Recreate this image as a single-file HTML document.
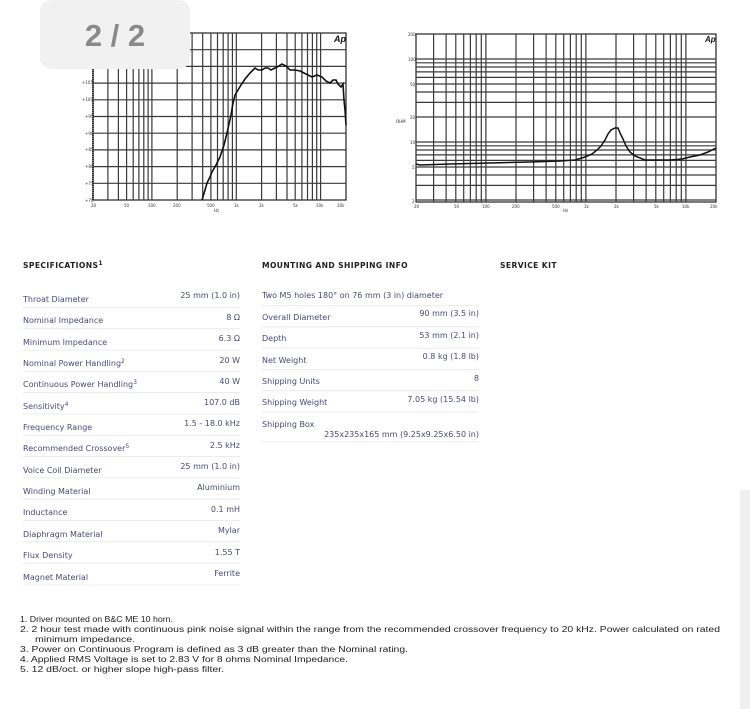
<!DOCTYPE html>
<html><head><meta charset="utf-8"><style>
html,body{margin:0;padding:0;background:#fff;}
svg{display:block;}
.l{font-family:"DejaVu Sans",sans-serif;font-size:8px;fill:#454a78;}
.v{font-family:"DejaVu Sans",sans-serif;font-size:8px;fill:#454a78;text-anchor:end;}
.h{font-family:"DejaVu Sans",sans-serif;font-size:7.6px;font-weight:bold;fill:#222;}
.f{font-family:"Liberation Sans",sans-serif;font-size:8.6px;fill:#222;}
.t{font-family:"DejaVu Sans",sans-serif;font-size:4px;fill:#333;}
</style></head><body>
<svg width="750" height="709" viewBox="0 0 750 709" xmlns="http://www.w3.org/2000/svg">
<rect width="750" height="709" fill="#fff"/>
<!-- LEFT CHART -->
<g stroke="#3a3a3a" stroke-width="1.2" fill="none">
<rect x="93" y="33" width="253" height="167" stroke="#222"/>
<path d="M93 49.7H346M93 66.4H346M93 83.1H346M93 99.8H346M93 116.5H346M93 133.2H346M93 149.9H346M93 166.6H346M93 183.3H346"/>
<path d="M107.9 33V200M118.4 33V200M126.6 33V200M133.2 33V200M138.9 33V200M143.8 33V200M148.1 33V200M151.9 33V200M177.2 33V200M192.1 33V200M202.7 33V200M210.9 33V200M217.5 33V200M223.2 33V200M228.1 33V200M232.4 33V200M236.3 33V200M261.6 33V200M276.4 33V200M287 33V200M295.2 33V200M301.9 33V200M307.5 33V200M312.4 33V200M316.7 33V200M320.6 33V200"/>
</g>
<path d="M93 33V200" stroke="#333" stroke-width="2" stroke-dasharray="1 1"/>
<polyline fill="none" stroke="#111" stroke-width="1.6" points="202,200 205,190 207,183 210,177 212,172 216,165 220,157 224,145 227,133 229,124 231,115 233,103 235,95 238,90 241,85 245,79 250,73 253,70 255,68 258,70 262,70 265,68 268,68 271,70 273,69 277,67 282,64 286,66 290,70 295,70 300,71 306,74 312,77 317,75 322,77 326,81 330,83 333,80 336,80 338,84 341,87 343,84 344,100 345,110 346,125"/>
<text x="334" y="42" font-family="Liberation Sans,sans-serif" font-size="9" font-weight="bold" font-style="italic" fill="#111">Ap</text>
<g class="t">
<text x="85" y="202">+70</text><text x="85" y="185">+75</text><text x="85" y="168">+80</text><text x="85" y="151">+85</text><text x="85" y="135">+90</text><text x="85" y="118">+95</text><text x="82" y="101">+100</text><text x="82" y="84">+105</text>
<text x="91" y="207">20</text><text x="124" y="207">50</text><text x="148" y="207">100</text><text x="173" y="207">200</text><text x="207" y="207">500</text><text x="234" y="207">1k</text><text x="259" y="207">2k</text><text x="293" y="207">5k</text><text x="316" y="207">10k</text><text x="337" y="207">20k</text>
<text x="214" y="212">Hz</text>
</g>
<!-- RIGHT CHART -->
<g stroke="#3a3a3a" stroke-width="1.2" fill="none">
<rect x="416" y="34" width="300" height="168" stroke="#222"/>
<path d="M416 200H716M416 185.4H716M416 175H716M416 167H716M416 160.4H716M416 154.9H716M416 150H716M416 145.8H716M416 142H716M416 117H716M416 102.4H716M416 92H716M416 84H716M416 77.4H716M416 71.9H716M416 67H716M416 62.8H716M416 59H716"/>
<path d="M433.6 34V202M446.1 34V202M455.8 34V202M463.7 34V202M470.4 34V202M476.2 34V202M481.3 34V202M485.9 34V202M516 34V202M533.6 34V202M546.1 34V202M555.8 34V202M563.7 34V202M570.4 34V202M576.2 34V202M581.3 34V202M585.9 34V202M616 34V202M633.6 34V202M646.1 34V202M655.8 34V202M663.7 34V202M670.4 34V202M676.2 34V202M681.3 34V202M685.9 34V202"/>
</g>
<polyline fill="none" stroke="#111" stroke-width="1.5" points="416,164 420,165 450,164 490,163 530,162 560,161 575,160 585,157 592,154 597,150 601,146 605,140 608,134 611,130 615,128 618,128 620,133 623,139 626,146 630,152 635,156 645,160 658,160 670,160 682,159 690,157 700,155 708,152 716,148"/>
<text x="705" y="42" font-family="Liberation Sans,sans-serif" font-size="8" font-weight="bold" font-style="italic" fill="#111">Ap</text>
<g class="t">
<text x="408" y="36">200</text><text x="408" y="61">100</text><text x="410" y="86">50</text><text x="410" y="119">20</text><text x="410" y="144">10</text><text x="412" y="169">5</text><text x="412" y="203">2</text>
<text x="396" y="123">OHM</text>
<text x="414" y="208">20</text><text x="454" y="208">50</text><text x="482" y="208">100</text><text x="512" y="208">200</text><text x="552" y="208">500</text><text x="584" y="208">1k</text><text x="614" y="208">2k</text><text x="654" y="208">5k</text><text x="682" y="208">10k</text><text x="710" y="208">20k</text>
<text x="563" y="212">Hz</text>
</g>
<!-- BADGE -->
<rect x="40" y="0" width="150" height="69" rx="11" fill="#f1f1f1"/>
<text x="115" y="46" text-anchor="middle" font-family="Liberation Sans,sans-serif" font-size="31" font-weight="bold" fill="#8a8a8a">2 / 2</text>
<!-- HEADERS -->
<text class="h" x="23" y="268" letter-spacing="0.4">SPECIFICATIONS<tspan font-size="6" dy="-3">1</tspan></text>
<text class="h" x="262" y="268" letter-spacing="0.4">MOUNTING AND SHIPPING INFO</text>
<text class="h" x="500" y="268" letter-spacing="0.4">SERVICE KIT</text>
<!-- SPEC TABLE -->
<g stroke="#e6e6e6" stroke-width="0.8">
<path d="M23 307.5H240M23 328.8H240M23 350.1H240M23 371.4H240M23 392.7H240M23 414H240M23 435.3H240M23 456.6H240M23 477.9H240M23 499.2H240M23 520.5H240M23 541.8H240M23 563.1H240M23 585H240"/>
<path d="M262 305.5H479M262 326.8H479M262 348.1H479M262 369.4H479M262 390.7H479M262 412H479M262 442H479"/>
</g>
<g class="l">
<text x="23" y="302">Throat Diameter</text>
<text x="23" y="323">Nominal Impedance</text>
<text x="23" y="345">Minimum Impedance</text>
<text x="23" y="366">Nominal Power Handling<tspan font-size="6" dy="-3">2</tspan></text>
<text x="23" y="387">Continuous Power Handling<tspan font-size="6" dy="-3">3</tspan></text>
<text x="23" y="409">Sensitivity<tspan font-size="6" dy="-3">4</tspan></text>
<text x="23" y="430">Frequency Range</text>
<text x="23" y="451">Recommended Crossover<tspan font-size="6" dy="-3">5</tspan></text>
<text x="23" y="473">Voice Coil Diameter</text>
<text x="23" y="494">Winding Material</text>
<text x="23" y="515">Inductance</text>
<text x="23" y="537">Diaphragm Material</text>
<text x="23" y="558">Flux Density</text>
<text x="23" y="580">Magnet Material</text>
<text x="262" y="298">Two M5 holes 180° on 76 mm (3 in) diameter</text>
<text x="262" y="320">Overall Diameter</text>
<text x="262" y="341">Depth</text>
<text x="262" y="363">Net Weight</text>
<text x="262" y="384">Shipping Units</text>
<text x="262" y="405">Shipping Weight</text>
<text x="262" y="427">Shipping Box</text>
</g>
<g class="v">
<text x="240" y="298">25 mm (1.0 in)</text>
<text x="240" y="320">8 Ω</text>
<text x="240" y="341">6.3 Ω</text>
<text x="240" y="363">20 W</text>
<text x="240" y="384">40 W</text>
<text x="240" y="405">107.0 dB</text>
<text x="240" y="426">1.5 - 18.0 kHz</text>
<text x="240" y="448">2.5 kHz</text>
<text x="240" y="469">25 mm (1.0 in)</text>
<text x="240" y="490">Aluminium</text>
<text x="240" y="512">0.1 mH</text>
<text x="240" y="533">Mylar</text>
<text x="240" y="555">1.55 T</text>
<text x="240" y="576">Ferrite</text>
<text x="479" y="316">90 mm (3.5 in)</text>
<text x="479" y="338">53 mm (2.1 in)</text>
<text x="479" y="359">0.8 kg (1.8 lb)</text>
<text x="479" y="381">8</text>
<text x="479" y="402">7.05 kg (15.54 lb)</text>
<text x="479" y="437">235x235x165 mm (9.25x9.25x6.50 in)</text>
</g>
<!-- FOOTNOTES -->
<g class="f">
<text x="20" y="622" textLength="153" lengthAdjust="spacingAndGlyphs">1.  Driver mounted on B&amp;C ME 10 horn.</text>
<text x="20" y="632" textLength="700" lengthAdjust="spacingAndGlyphs">2.  2 hour test made with continuous pink noise signal within the range from the recommended crossover frequency to 20 kHz. Power calculated on rated</text>
<text x="35" y="642" textLength="100" lengthAdjust="spacingAndGlyphs">minimum impedance.</text>
<text x="20" y="652" textLength="388" lengthAdjust="spacingAndGlyphs">3.  Power on Continuous Program is defined as 3 dB greater than the Nominal rating.</text>
<text x="20" y="662" textLength="328" lengthAdjust="spacingAndGlyphs">4.  Applied RMS Voltage is set to 2.83 V for 8 ohms Nominal Impedance.</text>
<text x="20" y="672" textLength="204" lengthAdjust="spacingAndGlyphs">5.  12 dB/oct. or higher slope high-pass filter.</text>
</g>
<!-- scrollbar -->
<rect x="740" y="490" width="10" height="219" fill="#efefef"/>
</svg>
</body></html>
